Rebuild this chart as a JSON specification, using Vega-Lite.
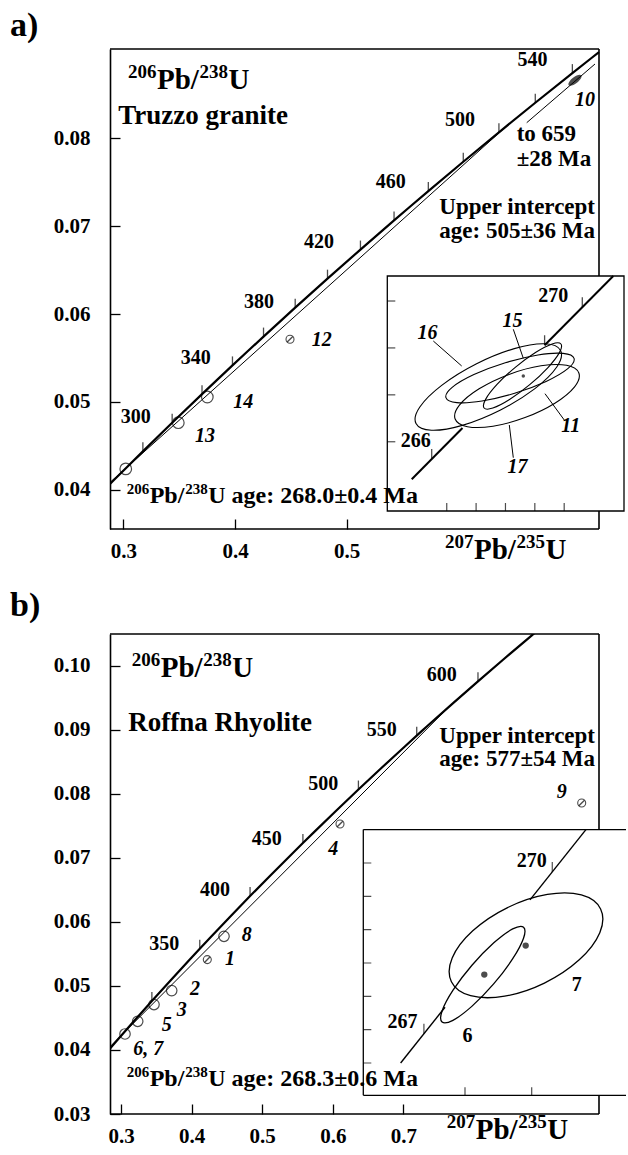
{
 "$schema": "https://vega.github.io/schema/vega-lite/v6.json",
 "padding": {"left": 10, "top": 9, "right": 0, "bottom": 0},
 "background": "white",
 "config": {
  "view": {"stroke": null},
  "font": "Liberation Serif",
  "axis": {"grid": false, "domainColor": "black", "domainWidth": 1.6, "tickColor": "black", "tickWidth": 1.3, "tickSize": -10, "labelColor": "black", "labelFont": "Liberation Serif", "labelFontWeight": "bold", "labelFontSize": 21, "labelFlush": false, "labelOverlap": false, "labelBound": false},
  "axisBottom": {"labelBaseline": "alphabetic", "labelPadding": 38, "labelAlign": "center", "domain": false},
  "axisLeft": {"labelPadding": 30, "labelAlign": "right", "labelBaseline": "middle"},
  "title": {"font": "Liberation Serif", "fontSize": 34, "fontWeight": "bold", "color": "black", "anchor": "start", "frame": "group", "baseline": "alphabetic", "dx": -100},
  "text": {"font": "Liberation Serif", "color": "black", "fontWeight": "bold"}
 },
 "datasets": {
  "conc": [{"age":250,"x":0.279171,"y":0.039543},{"age":260,"x":0.291831,"y":0.041157},{"age":268,"x":0.30205,"y":0.04245},{"age":280,"x":0.317529,"y":0.044392},{"age":300,"x":0.343737,"y":0.047637},{"age":320,"x":0.370467,"y":0.050893},{"age":340,"x":0.397729,"y":0.054158},{"age":350,"x":0.411559,"y":0.055795},{"age":360,"x":0.425534,"y":0.057434},{"age":380,"x":0.453891,"y":0.06072},{"age":400,"x":0.482811,"y":0.064016},{"age":420,"x":0.512307,"y":0.067322},{"age":440,"x":0.542392,"y":0.070638},{"age":450,"x":0.557655,"y":0.0723},{"age":460,"x":0.573074,"y":0.073965},{"age":480,"x":0.604365,"y":0.077302},{"age":500,"x":0.63628,"y":0.08065},{"age":520,"x":0.668829,"y":0.084008},{"age":540,"x":0.702027,"y":0.087376},{"age":550,"x":0.718871,"y":0.089064},{"age":554.13,"x":0.725873,"y":0.089763},{"age":560,"x":0.735885,"y":0.090755},{"age":580,"x":0.770414,"y":0.094144},{"age":600,"x":0.80563,"y":0.097544},{"age":620,"x":0.841549,"y":0.100954},{"age":640,"x":0.87818,"y":0.104376},{"age":660,"x":0.915545,"y":0.107807}],
  "discA": [{"id":"d1","x":0.2881,"y":0.040859},{"id":"d1","x":0.644357,"y":0.081488},{"id":"d2","x":0.66115,"y":0.081739},{"id":"d2","x":0.72229,"y":0.088409}],
  "discB": [{"id":"d","x":0.2844,"y":0.0405},{"id":"d","x":0.76519,"y":0.093635}],
  "frameA": [{"x":0.288093,"x2":0.725873,"y":0.090114,"y2":0.090114},{"x":0.725873,"x2":0.725873,"y":0.035568,"y2":0.090114},{"x":0.288093,"x2":0.725873,"y":0.035568,"y2":0.035568}],
  "frameB": [{"x":0.284419,"x2":0.977054,"y":0.104929,"y2":0.104929},{"x":0.977054,"x2":0.977054,"y":0.03,"y2":0.104929},{"x":0.284419,"x2":0.977054,"y":0.03,"y2":0.03}],
  "ptsA": [{"x":0.3022,"y":0.0424,"kind":"open"},{"x":0.34924,"y":0.04765,"kind":"open"},{"x":0.3752,"y":0.05057,"kind":"open"},{"x":0.44924,"y":0.05713,"kind":"slashed"},{"x":0.70439,"y":0.08656,"kind":"filled"}],
  "ptsB": [{"x":0.30567,"y":0.04249,"kind":"open"},{"x":0.32365,"y":0.04447,"kind":"open"},{"x":0.34674,"y":0.04708,"kind":"open"},{"x":0.37181,"y":0.04926,"kind":"open"},{"x":0.42224,"y":0.0541,"kind":"slashed"},{"x":0.44589,"y":0.05774,"kind":"open"},{"x":0.6102,"y":0.07527,"kind":"slashed"},{"x":0.95255,"y":0.07855,"kind":"slashed"}],
  "labA": [
   {"kind":"head","x":0.29552,"y":0.081625,"text":"Truzzo granite"},
   {"kind":"note","x":0.72229,"y":0.07133,"text":"Upper intercept"},
   {"kind":"note","x":0.72229,"y":0.068602,"text":"age: 505±36 Ma"},
   {"kind":"note2","x":0.6522,"y":0.079659,"text":"to 659"},
   {"kind":"note2","x":0.6522,"y":0.076818,"text":"±28 Ma"},
   {"kind":"age","x":0.66634,"y":0.088182,"text":"540"},
   {"kind":"age","x":0.60143,"y":0.081364,"text":"500"},
   {"kind":"age","x":0.53948,"y":0.074352,"text":"460"},
   {"kind":"age","x":0.4752,"y":0.067534,"text":"420"},
   {"kind":"age","x":0.42149,"y":0.060716,"text":"380"},
   {"kind":"age","x":0.36491,"y":0.054284,"text":"340"},
   {"kind":"age","x":0.31119,"y":0.047648,"text":"300"},
   {"kind":"sample","x":0.7044,"y":0.083636,"text":"10"},
   {"kind":"sample","x":0.46867,"y":0.056364,"text":"12"},
   {"kind":"sample","x":0.39848,"y":0.049352,"text":"14"},
   {"kind":"sample","x":0.36419,"y":0.045455,"text":"13"}
  ],
  "labB": [
   {"kind":"head","x":0.31034,"y":0.08985,"text":"Roffna Rhyolite"},
   {"kind":"note","x":0.97139,"y":0.087915,"text":"Upper intercept"},
   {"kind":"note","x":0.97139,"y":0.084278,"text":"age: 577±54 Ma"},
   {"kind":"age","x":0.75425,"y":0.097546,"text":"600"},
   {"kind":"age","x":0.66926,"y":0.08896,"text":"550"},
   {"kind":"age","x":0.58654,"y":0.08064,"text":"500"},
   {"kind":"age","x":0.50637,"y":0.072055,"text":"450"},
   {"kind":"age","x":0.43314,"y":0.063984,"text":"400"},
   {"kind":"age","x":0.36119,"y":0.055664,"text":"350"},
   {"kind":"sample","x":0.47096,"y":0.056959,"text":"8"},
   {"kind":"sample","x":0.44731,"y":0.053322,"text":"1"},
   {"kind":"sample","x":0.39773,"y":0.048639,"text":"2"},
   {"kind":"sample","x":0.3789,"y":0.045251,"text":"3"},
   {"kind":"sample","x":0.35765,"y":0.04291,"text":"5"},
   {"kind":"sample","x":0.31742,"y":0.039273,"text":"6, 7"},
   {"kind":"sample","x":0.59363,"y":0.070493,"text":"4"},
   {"kind":"sample","x":0.91714,"y":0.079329,"text":"9"}
  ],
  "pbA": [
   {"kind":"big","x":0.30421,"y":0.085534,"s1":"206","s2":"238","tail":"U"},
   {"kind":"big","x":0.588,"y":0.032159,"s1":"207","s2":"235","tail":"U"},
   {"kind":"small","x":0.30304,"y":0.038557,"s1":"206","s2":"238","tail":"U age: 268.0±0.4 Ma"}
  ],
  "pbB": [
   {"kind":"big","x":0.31516,"y":0.098217,"s1":"206","s2":"238","tail":"U"},
   {"kind":"big","x":0.76133,"y":0.026051,"s1":"207","s2":"235","tail":"U"},
   {"kind":"small","x":0.30807,"y":0.034324,"s1":"206","s2":"238","tail":"U age: 268.3±0.6 Ma"}
  ],
  "ellA": [
   {"id":"16","i":0,"x":0.3038777,"y":0.0425891},{"id":"16","i":1,"x":0.3037473,"y":0.0425188},{"id":"16","i":2,"x":0.3029922,"y":0.0424256},{"id":"16","i":3,"x":0.3018145,"y":0.0423345},{"id":"16","i":4,"x":0.3005298,"y":0.0422699},{"id":"16","i":5,"x":0.2994825,"y":0.0422491},{"id":"16","i":6,"x":0.2989529,"y":0.0422778},{"id":"16","i":7,"x":0.2990833,"y":0.0423481},{"id":"16","i":8,"x":0.2998384,"y":0.0424413},{"id":"16","i":9,"x":0.3010162,"y":0.0425324},{"id":"16","i":10,"x":0.3023009,"y":0.042597},{"id":"16","i":11,"x":0.3033482,"y":0.0426178},
   {"id":"17","i":0,"x":0.3044997,"y":0.0424932},{"id":"17","i":1,"x":0.3043539,"y":0.0424341},{"id":"17","i":2,"x":0.3036829,"y":0.0423645},{"id":"17","i":3,"x":0.302666,"y":0.0423032},{"id":"17","i":4,"x":0.3015761,"y":0.0422664},{"id":"17","i":5,"x":0.3007049,"y":0.0422642},{"id":"17","i":6,"x":0.3002859,"y":0.042297},{"id":"17","i":7,"x":0.3004317,"y":0.0423561},{"id":"17","i":8,"x":0.3011027,"y":0.0424256},{"id":"17","i":9,"x":0.3021196,"y":0.042487},{"id":"17","i":10,"x":0.3032095,"y":0.0425237},{"id":"17","i":11,"x":0.3040808,"y":0.042526},
   {"id":"11","i":0,"x":0.3043365,"y":0.0425553},{"id":"11","i":1,"x":0.3041237,"y":0.0425115},{"id":"11","i":2,"x":0.3033836,"y":0.0424571},{"id":"11","i":3,"x":0.3023138,"y":0.0424066},{"id":"11","i":4,"x":0.3012011,"y":0.0423735},{"id":"11","i":5,"x":0.3003445,"y":0.0423669},{"id":"11","i":6,"x":0.2999723,"y":0.0423883},{"id":"11","i":7,"x":0.3001851,"y":0.0424321},{"id":"11","i":8,"x":0.3009252,"y":0.0424865},{"id":"11","i":9,"x":0.301995,"y":0.042537},{"id":"11","i":10,"x":0.3031077,"y":0.0425701},{"id":"11","i":11,"x":0.3039643,"y":0.0425768},
   {"id":"15","i":0,"x":0.3038887,"y":0.0426168},{"id":"15","i":1,"x":0.3038366,"y":0.04258},{"id":"15","i":2,"x":0.3034476,"y":0.0425165},{"id":"15","i":3,"x":0.3028264,"y":0.0424433},{"id":"15","i":4,"x":0.3021391,"y":0.0423801},{"id":"15","i":5,"x":0.3015703,"y":0.0423437},{"id":"15","i":6,"x":0.3012716,"y":0.0423439},{"id":"15","i":7,"x":0.3013237,"y":0.0423807},{"id":"15","i":8,"x":0.3017126,"y":0.0424442},{"id":"15","i":9,"x":0.3023339,"y":0.0425173},{"id":"15","i":10,"x":0.3030212,"y":0.0425806},{"id":"15","i":11,"x":0.30359,"y":0.042617}
  ],
  "ellB": [
   {"id":"7","i":0,"x":0.306066,"y":0.0426623},{"id":"7","i":1,"x":0.3060423,"y":0.042591},{"id":"7","i":2,"x":0.3054255,"y":0.0425097},{"id":"7","i":3,"x":0.3043811,"y":0.0424399},{"id":"7","i":4,"x":0.3031886,"y":0.0424005},{"id":"7","i":5,"x":0.3021682,"y":0.042402},{"id":"7","i":6,"x":0.3015922,"y":0.042444},{"id":"7","i":7,"x":0.3016159,"y":0.0425152},{"id":"7","i":8,"x":0.3022327,"y":0.0425966},{"id":"7","i":9,"x":0.3032771,"y":0.0426664},{"id":"7","i":10,"x":0.3044696,"y":0.0427058},{"id":"7","i":11,"x":0.30549,"y":0.0427043},
   {"id":"6","i":0,"x":0.3037559,"y":0.0426074},{"id":"6","i":1,"x":0.3037547,"y":0.0425743},{"id":"6","i":2,"x":0.3034264,"y":0.0425121},{"id":"6","i":3,"x":0.3028588,"y":0.0424372},{"id":"6","i":4,"x":0.3022042,"y":0.0423699},{"id":"6","i":5,"x":0.3016378,"y":0.0423281},{"id":"6","i":6,"x":0.3013115,"y":0.0423231},{"id":"6","i":7,"x":0.3013127,"y":0.0423561},{"id":"6","i":8,"x":0.3016411,"y":0.0424184},{"id":"6","i":9,"x":0.3022087,"y":0.0424932},{"id":"6","i":10,"x":0.3028633,"y":0.0425605},{"id":"6","i":11,"x":0.3034297,"y":0.0426023}
  ],
  "ptrA": [{"id":"16","x":0.2995421,"y":0.0426295},{"id":"16","x":0.3005094,"y":0.042523},{"id":"15","x":0.3022668,"y":0.0426794},{"id":"15","x":0.3026074,"y":0.0425558},{"id":"11","x":0.3040276,"y":0.0422885},{"id":"11","x":0.3033464,"y":0.0424049},{"id":"17","x":0.3022668,"y":0.042132},{"id":"17","x":0.3021305,"y":0.0422714}],
  "insConcA": [{"seg":1,"x":0.298807,"y":0.04204},{"seg":1,"x":0.3005366,"y":0.0422589},{"seg":2,"x":0.303333,"y":0.0426115},{"seg":2,"x":0.305672,"y":0.0429066}],
  "insConcB": [{"seg":1,"x":0.30007,"y":0.0422},{"seg":1,"x":0.3014003,"y":0.0423673},{"seg":2,"x":0.303949,"y":0.0426894},{"seg":2,"x":0.305626,"y":0.0429003}],
  "insTickA": [{"x":0.2994876,"y":0.0421265},{"x":0.303333,"y":0.0426115},{"x":0.3046169,"y":0.0427732}],
  "insTickB": [{"x":0.3007681,"y":0.0422881},{"x":0.3046169,"y":0.0427732}],
  "boxA": [{"x":0.2979754,"x2":0.3060371,"y":0.0419048,"y2":0.0429066}],
  "boxB": [{"x":0.2989505,"x2":0.3068276,"y":0.0421031,"y2":0.0429003}],
  "edgeB": [{"x":0.2989505,"x2":0.3068276,"y":0.0429003,"y2":0.0429003},{"x":0.2989505,"x2":0.3068276,"y":0.0421031,"y2":0.0421031},{"x":0.2989505,"x2":0.2989505,"y":0.0421031,"y2":0.0429003}],
  "insAxA": [{"dir":"h","x":0.2979754,"y":0.0422},{"dir":"h","x":0.2979754,"y":0.0424},{"dir":"h","x":0.2979754,"y":0.0426},{"dir":"h","x":0.2979754,"y":0.0428},{"dir":"v","x":0.300,"y":0.0419048},{"dir":"v","x":0.301,"y":0.0419048},{"dir":"v","x":0.302,"y":0.0419048},{"dir":"v","x":0.303,"y":0.0419048},{"dir":"v","x":0.304,"y":0.0419048}],
  "insAxB": [{"dir":"h","x":0.2989505,"y":0.0422},{"dir":"h","x":0.2989505,"y":0.0423},{"dir":"h","x":0.2989505,"y":0.0424},{"dir":"h","x":0.2989505,"y":0.0425},{"dir":"h","x":0.2989505,"y":0.0426},{"dir":"h","x":0.2989505,"y":0.0427},{"dir":"h","x":0.2989505,"y":0.0428},{"dir":"v","x":0.302,"y":0.0421031},{"dir":"v","x":0.304,"y":0.0421031}],
  "insLabA": [{"kind":"age","x":0.3036291,"y":0.0428214,"text":"270"},{"kind":"age","x":0.2989461,"y":0.0422032,"text":"266"},{"kind":"sample","x":0.2993446,"y":0.0426649,"text":"16"},{"kind":"sample","x":0.3022395,"y":0.0427148,"text":"15"},{"kind":"sample","x":0.3042252,"y":0.0422672,"text":"11"},{"kind":"sample","x":0.3024098,"y":0.0420932,"text":"17"}],
  "insLabB": [{"kind":"age","x":0.300126,"y":0.0423221,"text":"267"},{"kind":"age","x":0.304,"y":0.0428052,"text":"270"},{"kind":"sample","x":0.302075,"y":0.0422801,"text":"6"},{"kind":"sample","x":0.3053493,"y":0.0424352,"text":"7"}]
 },
 "spacing": 105,
 "bounds": "flush",
 "vconcat": [
  {
   "width": 517, "height": 480,
   "title": {"text": "a)", "offset": 5},
   "resolve": {"scale": {"x": "independent", "y": "independent"}, "axis": {"x": "independent", "y": "independent"}},
   "layer": [
    {
     "encoding": {
      "x": {"field": "x", "type": "quantitative", "title": null, "scale": {"domain": [0.288093, 0.75094], "nice": false, "zero": false}, "axis": {"values": [0.3, 0.4, 0.5], "format": ".1f"}},
      "y": {"field": "y", "type": "quantitative", "title": null, "scale": {"domain": [0.035568, 0.090114], "nice": false, "zero": false}, "axis": {"values": [0.04, 0.05, 0.06, 0.07, 0.08], "format": ".2f"}}
     },
     "layer": [
      {"data": {"name": "conc"}, "transform": [{"filter": "datum.age <= 554.13"}], "mark": {"type": "line", "clip": true, "color": "black", "strokeWidth": 2.2}, "encoding": {"order": {"field": "age"}}},
      {"data": {"name": "discA"}, "mark": {"type": "line", "clip": true, "color": "black", "strokeWidth": 1}, "encoding": {"detail": {"field": "id"}}},
      {"data": {"name": "conc"}, "transform": [{"filter": "datum.age >= 280 && datum.age <= 540 && datum.age % 20 == 0"}], "mark": {"type": "tick", "orient": "vertical", "size": 9, "thickness": 1.3, "yOffset": -4.5, "color": "black"}},
      {"data": {"name": "ptsA"}, "transform": [{"filter": "datum.kind == 'open'"}], "mark": {"type": "point", "shape": "circle", "filled": false, "size": 135, "color": "black", "strokeWidth": 1.2}},
      {"data": {"name": "ptsA"}, "transform": [{"filter": "datum.kind == 'slashed'"}], "mark": {"type": "point", "shape": "circle", "filled": false, "size": 64, "color": "black", "strokeWidth": 1.1}},
      {"data": {"name": "ptsA"}, "transform": [{"filter": "datum.kind == 'slashed'"}], "mark": {"type": "point", "shape": "M-0.7,0.7L0.7,-0.7", "filled": false, "size": 64, "color": "black", "strokeWidth": 1.4}},
      {"data": {"name": "ptsA"}, "transform": [{"filter": "datum.kind == 'filled'"}], "mark": {"type": "point", "shape": "M-1,0A1,0.4,0,1,1,1,0A1,0.4,0,1,1,-1,0Z", "filled": true, "size": 256, "angle": -38, "color": "black"}},
      {"data": {"name": "labA"}, "layer": [
       {"transform": [{"filter": "datum.kind == 'head'"}], "mark": {"type": "text", "fontSize": 27, "align": "left", "baseline": "alphabetic"}, "encoding": {"text": {"field": "text"}}},
       {"transform": [{"filter": "datum.kind == 'note'"}], "mark": {"type": "text", "fontSize": 23, "align": "right", "baseline": "alphabetic"}, "encoding": {"text": {"field": "text"}}},
       {"transform": [{"filter": "datum.kind == 'note2'"}], "mark": {"type": "text", "fontSize": 23, "align": "left", "baseline": "alphabetic"}, "encoding": {"text": {"field": "text"}}},
       {"transform": [{"filter": "datum.kind == 'age'"}], "mark": {"type": "text", "fontSize": 20, "align": "center", "baseline": "alphabetic"}, "encoding": {"text": {"field": "text"}}},
       {"transform": [{"filter": "datum.kind == 'sample'"}], "mark": {"type": "text", "fontSize": 20, "fontStyle": "italic", "align": "left", "baseline": "alphabetic"}, "encoding": {"text": {"field": "text"}}}
      ]},
      {"data": {"name": "frameA"}, "mark": {"type": "rule", "color": "black", "strokeWidth": 1.6}, "encoding": {"x2": {"field": "x2"}, "y2": {"field": "y2"}}}
     ]
    },
    {
     "encoding": {
      "x": {"field": "x", "type": "quantitative", "scale": {"domain": [0.2885309, 0.3061393], "nice": false, "zero": false}, "axis": null},
      "y": {"field": "y", "type": "quantitative", "scale": {"domain": [0.0418281, 0.0438743], "nice": false, "zero": false}, "axis": null}
     },
     "layer": [
      {"data": {"name": "boxA"}, "mark": {"type": "rect", "fill": "white", "stroke": "black", "strokeWidth": 1.3}, "encoding": {"x2": {"field": "x2"}, "y2": {"field": "y2"}}},
      {"data": {"name": "insConcA"}, "mark": {"type": "line", "color": "black", "strokeWidth": 2}, "encoding": {"detail": {"field": "seg"}}},
      {"data": {"name": "ellA"}, "mark": {"type": "line", "interpolate": "cardinal-closed", "color": "black", "strokeWidth": 1.1}, "encoding": {"detail": {"field": "id"}, "order": {"field": "i"}}},
      {"data": {"values": [{"x": 0.3026074, "y": 0.0424803}]}, "mark": {"type": "point", "shape": "circle", "filled": true, "size": 12, "color": "black"}},
      {"data": {"name": "ptrA"}, "mark": {"type": "line", "color": "black", "strokeWidth": 1}, "encoding": {"detail": {"field": "id"}}},
      {"data": {"name": "insTickA"}, "mark": {"type": "tick", "orient": "vertical", "size": 10, "thickness": 1.3, "yOffset": -5, "color": "black"}},
      {"data": {"name": "insAxA"}, "transform": [{"filter": "datum.dir == 'h'"}], "mark": {"type": "tick", "orient": "horizontal", "size": 8, "thickness": 1.2, "xOffset": 4, "color": "black"}},
      {"data": {"name": "insAxA"}, "transform": [{"filter": "datum.dir == 'v'"}], "mark": {"type": "tick", "orient": "vertical", "size": 8, "thickness": 1.2, "yOffset": -4, "color": "black"}},
      {"data": {"name": "insLabA"}, "layer": [
       {"transform": [{"filter": "datum.kind == 'age'"}], "mark": {"type": "text", "fontSize": 20, "align": "center", "baseline": "middle"}, "encoding": {"text": {"field": "text"}}},
       {"transform": [{"filter": "datum.kind == 'sample'"}], "mark": {"type": "text", "fontSize": 20, "fontStyle": "italic", "align": "center", "baseline": "middle"}, "encoding": {"text": {"field": "text"}}}
      ]}
     ]
    },
    {
     "data": {"name": "pbA"},
     "encoding": {
      "x": {"field": "x", "type": "quantitative", "scale": {"domain": [0.288093, 0.75094], "nice": false, "zero": false}, "axis": null},
      "y": {"field": "y", "type": "quantitative", "scale": {"domain": [0.035568, 0.090114], "nice": false, "zero": false}, "axis": null}
     },
     "layer": [
      {"transform": [{"filter": "datum.kind == 'big'"}], "mark": {"type": "text", "fontSize": 19, "dy": -11, "align": "left", "baseline": "alphabetic"}, "encoding": {"text": {"field": "s1"}}},
      {"transform": [{"filter": "datum.kind == 'big'"}], "mark": {"type": "text", "fontSize": 29, "dx": 29, "align": "left", "baseline": "alphabetic"}, "encoding": {"text": {"value": "Pb/"}}},
      {"transform": [{"filter": "datum.kind == 'big'"}], "mark": {"type": "text", "fontSize": 19, "dx": 71.5, "dy": -11, "align": "left", "baseline": "alphabetic"}, "encoding": {"text": {"field": "s2"}}},
      {"transform": [{"filter": "datum.kind == 'big'"}], "mark": {"type": "text", "fontSize": 29, "dx": 100.5, "align": "left", "baseline": "alphabetic"}, "encoding": {"text": {"field": "tail"}}},
      {"transform": [{"filter": "datum.kind == 'small'"}], "mark": {"type": "text", "fontSize": 15, "dy": -9, "align": "left", "baseline": "alphabetic"}, "encoding": {"text": {"field": "s1"}}},
      {"transform": [{"filter": "datum.kind == 'small'"}], "mark": {"type": "text", "fontSize": 24, "dx": 23, "align": "left", "baseline": "alphabetic"}, "encoding": {"text": {"value": "Pb/"}}},
      {"transform": [{"filter": "datum.kind == 'small'"}], "mark": {"type": "text", "fontSize": 15, "dx": 58.5, "dy": -9, "align": "left", "baseline": "alphabetic"}, "encoding": {"text": {"field": "s2"}}},
      {"transform": [{"filter": "datum.kind == 'small'"}], "mark": {"type": "text", "fontSize": 24, "dx": 81.5, "align": "left", "baseline": "alphabetic"}, "encoding": {"text": {"field": "tail"}}}
     ]
    }
   ]
  },
  {
   "width": 517, "height": 480,
   "title": {"text": "b)", "offset": 10},
   "resolve": {"scale": {"x": "independent", "y": "independent"}, "axis": {"x": "independent", "y": "independent"}},
   "layer": [
    {
     "encoding": {
      "x": {"field": "x", "type": "quantitative", "title": null, "scale": {"domain": [0.284419, 1.016714], "nice": false, "zero": false}, "axis": {"values": [0.3, 0.4, 0.5, 0.6, 0.7], "format": ".1f"}},
      "y": {"field": "y", "type": "quantitative", "title": null, "scale": {"domain": [0.03, 0.104929], "nice": false, "zero": false}, "axis": {"values": [0.03, 0.04, 0.05, 0.06, 0.07, 0.08, 0.09, 0.1], "format": ".2f"}}
     },
     "layer": [
      {"data": {"name": "conc"}, "mark": {"type": "line", "clip": true, "color": "black", "strokeWidth": 2.2}, "encoding": {"order": {"field": "age"}}},
      {"data": {"name": "discB"}, "mark": {"type": "line", "clip": true, "color": "black", "strokeWidth": 1}, "encoding": {"detail": {"field": "id"}}},
      {"data": {"name": "conc"}, "transform": [{"filter": "datum.age >= 300 && datum.age <= 600 && datum.age % 50 == 0"}], "mark": {"type": "tick", "orient": "vertical", "size": 9, "thickness": 1.3, "yOffset": -4.5, "color": "black"}},
      {"data": {"name": "ptsB"}, "transform": [{"filter": "datum.kind == 'open'"}], "mark": {"type": "point", "shape": "circle", "filled": false, "size": 110, "color": "black", "strokeWidth": 1.2}},
      {"data": {"name": "ptsB"}, "transform": [{"filter": "datum.kind == 'slashed'"}], "mark": {"type": "point", "shape": "circle", "filled": false, "size": 64, "color": "black", "strokeWidth": 1.1}},
      {"data": {"name": "ptsB"}, "transform": [{"filter": "datum.kind == 'slashed'"}], "mark": {"type": "point", "shape": "M-0.7,0.7L0.7,-0.7", "filled": false, "size": 64, "color": "black", "strokeWidth": 1.4}},
      {"data": {"name": "labB"}, "layer": [
       {"transform": [{"filter": "datum.kind == 'head'"}], "mark": {"type": "text", "fontSize": 27, "align": "left", "baseline": "alphabetic"}, "encoding": {"text": {"field": "text"}}},
       {"transform": [{"filter": "datum.kind == 'note'"}], "mark": {"type": "text", "fontSize": 23, "align": "right", "baseline": "alphabetic"}, "encoding": {"text": {"field": "text"}}},
       {"transform": [{"filter": "datum.kind == 'age'"}], "mark": {"type": "text", "fontSize": 20, "align": "center", "baseline": "alphabetic"}, "encoding": {"text": {"field": "text"}}},
       {"transform": [{"filter": "datum.kind == 'sample'"}], "mark": {"type": "text", "fontSize": 20, "fontStyle": "italic", "align": "left", "baseline": "alphabetic"}, "encoding": {"text": {"field": "text"}}}
      ]},
      {"data": {"name": "frameB"}, "mark": {"type": "rule", "color": "black", "strokeWidth": 1.6}, "encoding": {"x2": {"field": "x2"}, "y2": {"field": "y2"}}}
     ]
    },
    {
     "encoding": {
      "x": {"field": "x", "type": "quantitative", "scale": {"domain": [0.2913553, 0.3068576], "nice": false, "zero": false}, "axis": null},
      "y": {"field": "y", "type": "quantitative", "scale": {"domain": [0.042047, 0.0434871], "nice": false, "zero": false}, "axis": null}
     },
     "layer": [
      {"data": {"name": "boxB"}, "mark": {"type": "rect", "fill": "white", "strokeWidth": 0}, "encoding": {"x2": {"field": "x2"}, "y2": {"field": "y2"}}},
      {"data": {"name": "edgeB"}, "mark": {"type": "rule", "color": "black", "strokeWidth": 1.3}, "encoding": {"x2": {"field": "x2"}, "y2": {"field": "y2"}}},
      {"data": {"name": "insConcB"}, "mark": {"type": "line", "color": "black", "strokeWidth": 1.4}, "encoding": {"detail": {"field": "seg"}}},
      {"data": {"name": "ellB"}, "mark": {"type": "line", "interpolate": "cardinal-closed", "color": "black", "strokeWidth": 1.3}, "encoding": {"detail": {"field": "id"}, "order": {"field": "i"}}},
      {"data": {"values": [{"x": 0.3025787, "y": 0.0424652}, {"x": 0.30382, "y": 0.0425522}]}, "mark": {"type": "point", "shape": "circle", "filled": true, "size": 40, "color": "black"}},
      {"data": {"name": "insTickB"}, "mark": {"type": "tick", "orient": "vertical", "size": 10, "thickness": 1.2, "yOffset": -5, "color": "black"}},
      {"data": {"name": "insAxB"}, "transform": [{"filter": "datum.dir == 'h'"}], "mark": {"type": "tick", "orient": "horizontal", "size": 8, "thickness": 1.2, "xOffset": 4, "color": "black"}},
      {"data": {"name": "insAxB"}, "transform": [{"filter": "datum.dir == 'v'"}], "mark": {"type": "tick", "orient": "vertical", "size": 8, "thickness": 1.2, "yOffset": -4, "color": "black"}},
      {"data": {"name": "insLabB"}, "layer": [
       {"transform": [{"filter": "datum.kind == 'age'"}], "mark": {"type": "text", "fontSize": 20, "align": "center", "baseline": "middle"}, "encoding": {"text": {"field": "text"}}},
       {"transform": [{"filter": "datum.kind == 'sample'"}], "mark": {"type": "text", "fontSize": 20, "align": "center", "baseline": "middle"}, "encoding": {"text": {"field": "text"}}}
      ]}
     ]
    },
    {
     "data": {"name": "pbB"},
     "encoding": {
      "x": {"field": "x", "type": "quantitative", "scale": {"domain": [0.284419, 1.016714], "nice": false, "zero": false}, "axis": null},
      "y": {"field": "y", "type": "quantitative", "scale": {"domain": [0.03, 0.104929], "nice": false, "zero": false}, "axis": null}
     },
     "layer": [
      {"transform": [{"filter": "datum.kind == 'big'"}], "mark": {"type": "text", "fontSize": 19, "dy": -11, "align": "left", "baseline": "alphabetic"}, "encoding": {"text": {"field": "s1"}}},
      {"transform": [{"filter": "datum.kind == 'big'"}], "mark": {"type": "text", "fontSize": 29, "dx": 29, "align": "left", "baseline": "alphabetic"}, "encoding": {"text": {"value": "Pb/"}}},
      {"transform": [{"filter": "datum.kind == 'big'"}], "mark": {"type": "text", "fontSize": 19, "dx": 71.5, "dy": -11, "align": "left", "baseline": "alphabetic"}, "encoding": {"text": {"field": "s2"}}},
      {"transform": [{"filter": "datum.kind == 'big'"}], "mark": {"type": "text", "fontSize": 29, "dx": 100.5, "align": "left", "baseline": "alphabetic"}, "encoding": {"text": {"field": "tail"}}},
      {"transform": [{"filter": "datum.kind == 'small'"}], "mark": {"type": "text", "fontSize": 15, "dy": -9, "align": "left", "baseline": "alphabetic"}, "encoding": {"text": {"field": "s1"}}},
      {"transform": [{"filter": "datum.kind == 'small'"}], "mark": {"type": "text", "fontSize": 24, "dx": 23, "align": "left", "baseline": "alphabetic"}, "encoding": {"text": {"value": "Pb/"}}},
      {"transform": [{"filter": "datum.kind == 'small'"}], "mark": {"type": "text", "fontSize": 15, "dx": 58.5, "dy": -9, "align": "left", "baseline": "alphabetic"}, "encoding": {"text": {"field": "s2"}}},
      {"transform": [{"filter": "datum.kind == 'small'"}], "mark": {"type": "text", "fontSize": 24, "dx": 81.5, "align": "left", "baseline": "alphabetic"}, "encoding": {"text": {"field": "tail"}}}
     ]
    }
   ]
  }
 ]
}
